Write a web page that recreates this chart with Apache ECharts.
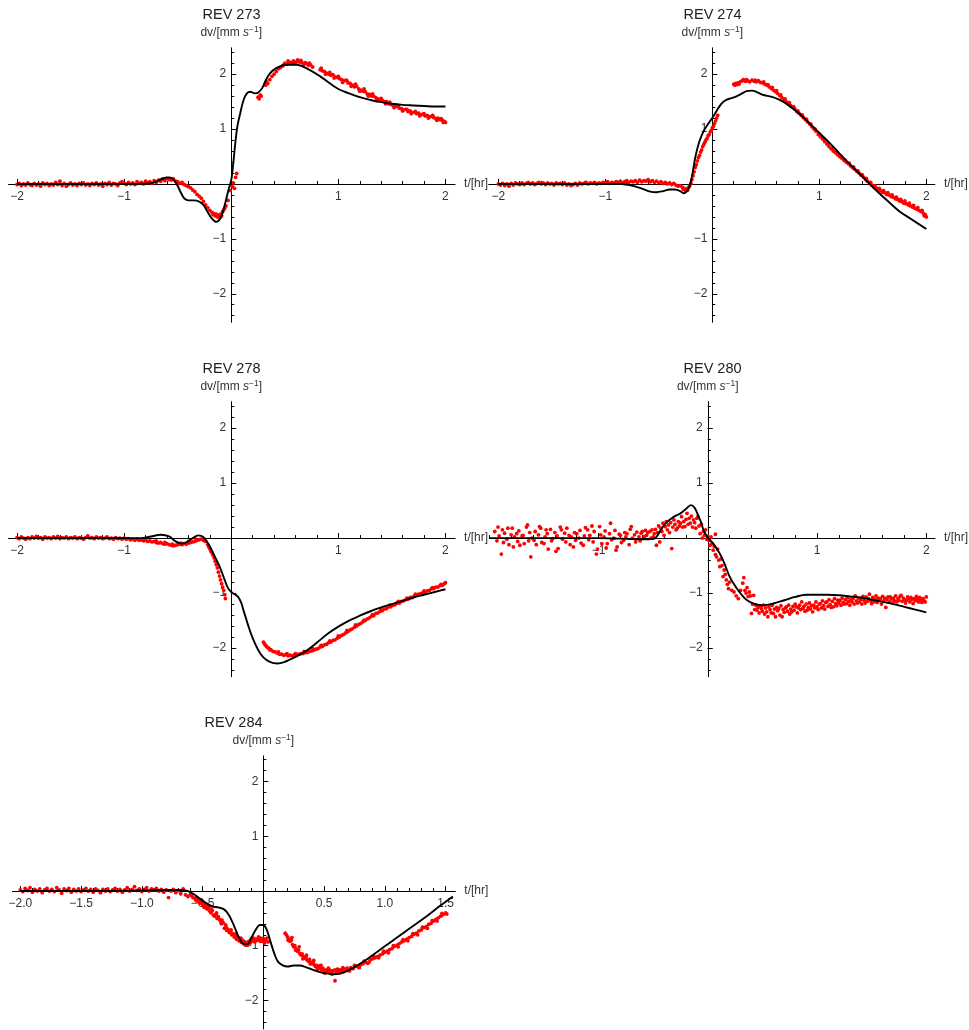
<!DOCTYPE html>
<html><head><meta charset="utf-8">
<script src="https://cdn.jsdelivr.net/npm/echarts@6/dist/echarts.min.js"></script>
<style>html,body{margin:0;padding:0;background:#fff}#c{width:969px;height:1030px}</style>
</head><body><div id="c"></div>
<script>
// ---------- titles & tick labels ----------
const titles = ['REV 273', 'REV 274', 'REV 278', 'REV 280', 'REV 284'];
const xLabelsStd = [-2, -1, 1, 2];
const xLabels280 = [-1, 1, 2];
const xLabels284 = [-2, -1.5, -1, -0.5, 0.5, 1, 1.5];
const yLabels = [-2, -1, 1, 2];
const xName = 't/[hr]';

// ---------- REV 273 ----------
const curve273 = [[-2,0],[-1.5,0],[-1,0],[-0.8,0.005],[-0.72,0.03],[-0.65,0.09],[-0.59,0.12],[-0.55,0.1],[-0.51,0.0],[-0.47,-0.16],[-0.44,-0.26],[-0.4,-0.3],[-0.35,-0.3],[-0.3,-0.32],[-0.26,-0.38],[-0.23,-0.48],[-0.18,-0.63],[-0.14,-0.69],[-0.1,-0.62],[-0.07,-0.45],[-0.05,-0.3],[-0.025,-0.1],[0.0,0.07],[0.022,0.44],[0.053,1.0],[0.084,1.29],[0.115,1.53],[0.146,1.65],[0.177,1.68],[0.22,1.65],[0.255,1.67],[0.29,1.75],[0.32,1.88],[0.36,2.01],[0.42,2.11],[0.52,2.17],[0.61,2.17],[0.7,2.11],[0.83,1.96],[1.0,1.73],[1.1,1.65],[1.2,1.58],[1.3,1.53],[1.4,1.49],[1.5,1.46],[1.6,1.44],[1.7,1.43],[1.8,1.42],[1.9,1.41],[2.0,1.41]];
const pts273 = [[-2.00,-0.01],[-1.98,0.01],[-1.96,-0.03],[-1.94,0.00],[-1.92,-0.02],[-1.90,0.02],[-1.88,-0.01],[-1.86,-0.03],[-1.84,0.01],[-1.82,-0.02],[-1.80,0.00],[-1.78,-0.04],[-1.76,0.02],[-1.74,-0.01],[-1.72,0.01],[-1.70,-0.03],[-1.68,0.00],[-1.66,-0.02],[-1.64,0.03],[-1.62,-0.01],[-1.60,0.05],[-1.58,-0.03],[-1.56,0.01],[-1.54,-0.04],[-1.52,-0.01],[-1.50,0.02],[-1.48,-0.02],[-1.46,0.00],[-1.44,-0.03],[-1.42,0.01],[-1.40,-0.01],[-1.38,0.02],[-1.36,-0.02],[-1.34,0.00],[-1.32,-0.03],[-1.30,0.01],[-1.28,-0.01],[-1.26,0.02],[-1.24,-0.02],[-1.22,0.00],[-1.20,-0.04],[-1.18,0.01],[-1.16,-0.01],[-1.14,0.03],[-1.12,-0.02],[-1.10,0.01],[-1.08,0.00],[-1.06,-0.03],[-1.04,0.02],[-1.02,0.04],[-1.00,0.01],[-0.98,-0.01],[-0.96,0.03],[-0.94,0.00],[-0.92,0.02],[-0.90,-0.01],[-0.88,0.04],[-0.86,0.01],[-0.84,0.03],[-0.82,0.00],[-0.80,0.05],[-0.78,0.02],[-0.76,0.04],[-0.74,0.01],[-0.72,0.06],[-0.70,0.03],[-0.68,0.07],[-0.66,0.05],[-0.64,0.09],[-0.62,0.06],[-0.60,0.10],[-0.58,0.08],[-0.56,0.07],[-0.54,0.09],[-0.52,0.05],[-0.50,0.04],[-0.48,0.01],[-0.46,0.03],[-0.44,-0.01],[-0.42,-0.03],[-0.40,-0.05],[-0.38,-0.07],[-0.36,-0.11],[-0.34,-0.14],[-0.32,-0.19],[-0.30,-0.22],[-0.28,-0.26],[-0.26,-0.32],[-0.24,-0.38],[-0.22,-0.43],[-0.20,-0.48],[-0.18,-0.52],[-0.17,-0.56],[-0.16,-0.54],[-0.15,-0.58],[-0.14,-0.55],[-0.13,-0.6],[-0.12,-0.57],[-0.11,-0.61],[-0.10,-0.55],[-0.09,-0.58],[-0.08,-0.5],[-0.07,-0.47],[-0.06,-0.44],[-0.05,-0.4],[-0.03,-0.3],[-0.01,-0.12],[0.01,-0.05],[0.02,0.02],[0.03,-0.08],[0.04,0.12],[0.05,0.19],[0.25,1.58],[0.26,1.55],[0.27,1.62],[0.28,1.6],[0.32,1.8],[0.33,1.86],[0.34,1.83],[0.36,1.9],[0.38,1.96],[0.40,2.0],[0.42,2.05],[0.44,2.1],[0.46,2.12],[0.48,2.15],[0.50,2.2],[0.52,2.18],[0.54,2.22],[0.56,2.21],[0.58,2.24],[0.60,2.2],[0.62,2.26],[0.64,2.22],[0.66,2.21],[0.68,2.18],[0.70,2.2],[0.72,2.16],[0.74,2.17],[0.76,2.13],[0.83,2.08],[0.85,2.06],[0.87,2.05],[0.89,2.02],[0.91,2.0],[0.93,1.98],[0.95,1.99],[0.97,1.95],[0.99,1.94],[1.01,1.92],[1.03,1.9],[1.05,1.88],[1.07,1.89],[1.09,1.84],[1.11,1.83],[1.13,1.8],[1.15,1.77],[1.17,1.78],[1.19,1.73],[1.21,1.71],[1.23,1.69],[1.25,1.68],[1.27,1.64],[1.29,1.63],[1.31,1.6],[1.33,1.6],[1.35,1.57],[1.37,1.55],[1.39,1.54],[1.41,1.52],[1.43,1.5],[1.45,1.5],[1.47,1.46],[1.49,1.45],[1.51,1.43],[1.53,1.41],[1.55,1.42],[1.57,1.38],[1.59,1.37],[1.61,1.35],[1.63,1.36],[1.65,1.32],[1.67,1.33],[1.69,1.3],[1.71,1.31],[1.73,1.28],[1.75,1.29],[1.77,1.26],[1.79,1.27],[1.81,1.24],[1.83,1.25],[1.85,1.22],[1.87,1.23],[1.89,1.21],[1.91,1.19],[1.93,1.2],[1.95,1.17],[1.97,1.16],[1.99,1.14],[2.0,1.12],
  [0.49,2.17],[0.53,2.24],[0.57,2.19],[0.61,2.23],[0.65,2.25],[0.69,2.21],[0.73,2.2],[0.84,2.11],[0.88,2.0],[0.92,2.03],[0.96,1.93],[1.0,1.96],[1.04,1.85],[1.08,1.88],[1.12,1.78],[1.16,1.82],[1.2,1.69],[1.24,1.73],[1.28,1.6],[1.32,1.64],[1.36,1.52],[1.4,1.56],[1.44,1.46],[1.48,1.49],[1.52,1.39],[1.56,1.42],[1.6,1.33],[1.64,1.36],[1.68,1.28],[1.72,1.32],[1.76,1.24],[1.8,1.28],[1.84,1.2],[1.88,1.25],[1.92,1.16],[1.96,1.19],[1.98,1.12]];

// ---------- REV 274 ----------
const curve274 = [[-2,0],[-1.5,0],[-1.0,0],[-0.85,0.0],[-0.75,-0.03],[-0.65,-0.09],[-0.58,-0.14],[-0.52,-0.15],[-0.46,-0.13],[-0.4,-0.1],[-0.35,-0.1],[-0.3,-0.13],[-0.27,-0.17],[-0.24,-0.14],[-0.22,-0.07],[-0.2,0.05],[-0.18,0.25],[-0.16,0.48],[-0.13,0.72],[-0.1,0.88],[-0.07,1.0],[-0.03,1.12],[0.0,1.2],[0.04,1.33],[0.08,1.45],[0.12,1.52],[0.17,1.56],[0.22,1.59],[0.27,1.64],[0.32,1.69],[0.37,1.70],[0.42,1.67],[0.48,1.62],[0.55,1.59],[0.62,1.54],[0.7,1.45],[0.8,1.3],[0.9,1.12],[1.0,0.93],[1.1,0.74],[1.2,0.53],[1.3,0.33],[1.4,0.14],[1.47,0.0],[1.55,-0.15],[1.65,-0.33],[1.75,-0.5],[1.85,-0.63],[2.0,-0.82]];
const pts274 = [[-2.00,0.0],[-1.98,-0.02],[-1.96,0.01],[-1.94,-0.03],[-1.92,0.0],[-1.90,-0.04],[-1.88,0.01],[-1.86,-0.02],[-1.84,0.02],[-1.82,0.0],[-1.80,-0.01],[-1.78,0.02],[-1.76,-0.01],[-1.74,0.01],[-1.72,0.03],[-1.70,0.0],[-1.68,0.02],[-1.66,-0.01],[-1.64,0.01],[-1.62,0.03],[-1.60,0.0],[-1.58,0.02],[-1.56,-0.01],[-1.54,0.02],[-1.52,0.0],[-1.50,0.01],[-1.48,-0.02],[-1.46,0.02],[-1.44,0.0],[-1.42,0.01],[-1.40,-0.01],[-1.38,0.02],[-1.36,-0.02],[-1.34,0.0],[-1.32,-0.03],[-1.30,-0.01],[-1.28,0.01],[-1.26,-0.02],[-1.24,0.02],[-1.22,0.0],[-1.20,0.01],[-1.18,0.03],[-1.16,0.0],[-1.14,0.02],[-1.12,0.01],[-1.10,0.03],[-1.08,0.0],[-1.06,0.02],[-1.04,0.01],[-1.02,0.03],[-1.00,0.02],[-0.98,0.04],[-0.96,0.01],[-0.94,0.03],[-0.92,0.02],[-0.90,0.04],[-0.88,0.03],[-0.86,0.05],[-0.84,0.02],[-0.82,0.04],[-0.80,0.06],[-0.78,0.03],[-0.76,0.05],[-0.74,0.04],[-0.72,0.06],[-0.70,0.03],[-0.68,0.07],[-0.66,0.04],[-0.64,0.06],[-0.62,0.05],[-0.60,0.08],[-0.58,0.04],[-0.56,0.06],[-0.54,0.03],[-0.52,0.05],[-0.50,0.02],[-0.48,0.04],[-0.46,0.01],[-0.44,0.03],[-0.42,0.0],[-0.40,0.02],[-0.38,-0.01],[-0.36,0.01],[-0.34,-0.02],[-0.32,-0.04],[-0.30,-0.03],[-0.28,-0.06],[-0.27,-0.1],[-0.26,-0.08],[-0.25,-0.12],[-0.24,-0.09],[-0.23,-0.11],[-0.22,-0.06],[-0.21,-0.03],[-0.20,0.01],[-0.19,0.08],[-0.18,0.15],[-0.17,0.22],[-0.16,0.3],[-0.15,0.35],[-0.14,0.42],[-0.13,0.48],[-0.12,0.52],[-0.11,0.58],[-0.10,0.62],[-0.09,0.68],[-0.08,0.72],[-0.07,0.76],[-0.06,0.8],[-0.05,0.83],[-0.04,0.88],[-0.03,0.9],[-0.02,0.95],[-0.01,0.97],[0.0,1.02],[0.01,1.05],[0.02,1.1],[0.03,1.15],[0.04,1.2],[0.05,1.25],[0.20,1.82],[0.21,1.8],[0.22,1.83],[0.23,1.81],[0.24,1.84],[0.26,1.86],[0.28,1.88],[0.29,1.9],[0.31,1.87],[0.33,1.88],[0.35,1.86],[0.37,1.89],[0.39,1.87],[0.41,1.86],[0.43,1.88],[0.45,1.85],[0.47,1.84],[0.49,1.82],[0.51,1.8],[0.53,1.77],[0.55,1.74],[0.57,1.71],[0.59,1.68],[0.61,1.65],[0.63,1.61],[0.65,1.57],[0.67,1.54],[0.69,1.5],[0.71,1.47],[0.73,1.43],[0.75,1.4],[0.77,1.37],[0.79,1.32],[0.81,1.29],[0.83,1.25],[0.85,1.21],[0.87,1.17],[0.89,1.13],[0.91,1.09],[0.93,1.04],[0.95,1.0],[0.97,0.96],[0.99,0.9],[1.01,0.86],[1.03,0.82],[1.05,0.77],[1.07,0.73],[1.09,0.68],[1.11,0.64],[1.13,0.6],[1.15,0.57],[1.17,0.53],[1.19,0.5],[1.21,0.47],[1.23,0.43],[1.25,0.4],[1.27,0.37],[1.29,0.33],[1.31,0.3],[1.33,0.27],[1.35,0.23],[1.37,0.2],[1.39,0.16],[1.41,0.13],[1.43,0.09],[1.45,0.05],[1.47,0.02],[1.49,-0.02],[1.51,-0.05],[1.53,-0.07],[1.55,-0.1],[1.57,-0.12],[1.59,-0.15],[1.61,-0.16],[1.63,-0.19],[1.65,-0.2],[1.67,-0.23],[1.69,-0.24],[1.71,-0.27],[1.73,-0.28],[1.75,-0.31],[1.77,-0.32],[1.79,-0.35],[1.81,-0.36],[1.83,-0.38],[1.85,-0.4],[1.87,-0.42],[1.89,-0.44],[1.91,-0.46],[1.93,-0.48],[1.95,-0.5],[1.97,-0.53],[1.99,-0.56],[2.0,-0.6],
  [0.25,1.82],[0.32,1.9],[0.4,1.89],[0.48,1.86],[0.52,1.81],[0.56,1.76],[0.6,1.7],[0.64,1.62],[0.68,1.55],[0.72,1.48],[0.76,1.41],[0.8,1.33],[0.84,1.26],[0.88,1.18],[0.92,1.09],[0.96,1.0],[1.0,0.91],[1.04,0.82],[1.08,0.73],[1.12,0.65],[1.16,0.58],[1.2,0.51],[1.24,0.44],[1.28,0.38],[1.32,0.31],[1.36,0.24],[1.4,0.17],[1.44,0.1],[1.48,0.03],[1.52,-0.03],[1.56,-0.08],[1.6,-0.12],[1.64,-0.16],[1.68,-0.2],[1.72,-0.24],[1.76,-0.28],[1.8,-0.31],[1.84,-0.35],[1.88,-0.39],[1.92,-0.43],[1.96,-0.48],[1.98,-0.58]];

// ---------- REV 278 ----------
const curve278 = [[-2,0],[-1.5,0],[-1.0,0],[-0.85,0.0],[-0.75,0.03],[-0.66,0.06],[-0.58,0.03],[-0.52,-0.06],[-0.46,-0.1],[-0.41,-0.07],[-0.36,0.0],[-0.31,0.05],[-0.28,0.04],[-0.25,0.0],[-0.2,-0.15],[-0.16,-0.31],[-0.12,-0.47],[-0.09,-0.61],[-0.06,-0.77],[-0.03,-0.91],[0.0,-0.98],[0.03,-1.02],[0.06,-1.06],[0.09,-1.16],[0.12,-1.35],[0.16,-1.6],[0.2,-1.82],[0.25,-2.03],[0.3,-2.17],[0.36,-2.25],[0.43,-2.28],[0.5,-2.25],[0.6,-2.16],[0.7,-2.05],[0.8,-1.9],[0.9,-1.74],[1.0,-1.61],[1.1,-1.5],[1.2,-1.41],[1.3,-1.33],[1.4,-1.26],[1.5,-1.2],[1.6,-1.14],[1.7,-1.08],[1.8,-1.03],[1.9,-0.98],[2.0,-0.93]];
const pts278 = [[-2.00,0.01],[-1.98,-0.01],[-1.96,0.02],[-1.94,0.0],[-1.92,-0.02],[-1.90,0.01],[-1.88,-0.01],[-1.86,0.02],[-1.84,0.0],[-1.82,0.03],[-1.80,0.0],[-1.78,0.01],[-1.76,-0.02],[-1.74,0.02],[-1.72,0.0],[-1.70,0.01],[-1.68,-0.01],[-1.66,0.02],[-1.64,0.0],[-1.62,0.03],[-1.60,-0.01],[-1.58,0.01],[-1.56,0.0],[-1.54,0.02],[-1.52,-0.01],[-1.50,0.01],[-1.48,0.0],[-1.46,0.02],[-1.44,-0.01],[-1.42,0.01],[-1.40,0.0],[-1.38,-0.02],[-1.36,0.01],[-1.34,0.04],[-1.32,0.0],[-1.30,0.01],[-1.28,-0.01],[-1.26,0.02],[-1.24,0.0],[-1.22,0.01],[-1.20,-0.01],[-1.18,0.0],[-1.16,0.02],[-1.14,-0.01],[-1.12,0.0],[-1.10,-0.02],[-1.08,0.01],[-1.06,-0.01],[-1.04,0.0],[-1.02,-0.02],[-1.00,0.0],[-0.98,-0.02],[-0.96,-0.01],[-0.94,-0.03],[-0.92,-0.02],[-0.90,-0.04],[-0.88,-0.02],[-0.86,-0.04],[-0.84,-0.03],[-0.82,-0.05],[-0.80,-0.04],[-0.78,-0.06],[-0.76,-0.05],[-0.74,-0.07],[-0.72,-0.06],[-0.70,-0.08],[-0.68,-0.09],[-0.66,-0.08],[-0.64,-0.1],[-0.62,-0.11],[-0.60,-0.1],[-0.58,-0.12],[-0.56,-0.13],[-0.54,-0.14],[-0.52,-0.13],[-0.50,-0.12],[-0.48,-0.11],[-0.46,-0.12],[-0.44,-0.1],[-0.42,-0.11],[-0.40,-0.09],[-0.38,-0.08],[-0.36,-0.07],[-0.34,-0.06],[-0.32,-0.04],[-0.30,-0.03],[-0.28,-0.02],[-0.26,-0.04],[-0.24,-0.06],[-0.22,-0.12],[-0.21,-0.16],[-0.20,-0.2],[-0.19,-0.24],[-0.18,-0.27],[-0.17,-0.31],[-0.16,-0.36],[-0.15,-0.42],[-0.14,-0.48],[-0.13,-0.54],[-0.12,-0.62],[-0.11,-0.69],[-0.10,-0.76],[-0.09,-0.83],[-0.08,-0.89],[-0.07,-0.95],[-0.06,-1.03],[-0.055,-1.1],[0.30,-1.89],[0.31,-1.92],[0.32,-1.95],[0.33,-1.97],[0.34,-1.99],[0.35,-2.0],[0.37,-2.03],[0.39,-2.06],[0.41,-2.07],[0.43,-2.09],[0.45,-2.11],[0.47,-2.11],[0.49,-2.13],[0.51,-2.12],[0.53,-2.14],[0.55,-2.13],[0.57,-2.14],[0.59,-2.12],[0.61,-2.13],[0.63,-2.11],[0.65,-2.1],[0.67,-2.1],[0.69,-2.08],[0.71,-2.08],[0.73,-2.06],[0.75,-2.05],[0.77,-2.04],[0.79,-2.02],[0.81,-2.01],[0.83,-1.98],[0.85,-1.97],[0.87,-1.94],[0.89,-1.93],[0.91,-1.9],[0.93,-1.89],[0.95,-1.86],[0.97,-1.85],[0.99,-1.82],[1.01,-1.8],[1.03,-1.77],[1.05,-1.75],[1.07,-1.72],[1.09,-1.7],[1.11,-1.67],[1.13,-1.65],[1.15,-1.62],[1.17,-1.6],[1.19,-1.57],[1.21,-1.55],[1.23,-1.52],[1.25,-1.5],[1.27,-1.47],[1.29,-1.45],[1.31,-1.42],[1.33,-1.41],[1.35,-1.37],[1.37,-1.36],[1.39,-1.33],[1.41,-1.32],[1.43,-1.29],[1.45,-1.28],[1.47,-1.25],[1.49,-1.25],[1.51,-1.22],[1.53,-1.21],[1.55,-1.18],[1.57,-1.18],[1.59,-1.15],[1.61,-1.14],[1.63,-1.12],[1.65,-1.11],[1.67,-1.08],[1.69,-1.08],[1.71,-1.05],[1.73,-1.04],[1.75,-1.02],[1.77,-1.01],[1.79,-0.99],[1.81,-0.98],[1.83,-0.96],[1.85,-0.95],[1.87,-0.92],[1.89,-0.92],[1.91,-0.89],[1.93,-0.89],[1.95,-0.86],[1.97,-0.86],[1.99,-0.83],[2.0,-0.81],
  [-0.7,-0.05],[-0.62,-0.08],[-0.55,-0.11],[-0.47,-0.09],[-0.4,-0.06],[-0.33,-0.02],[0.36,-2.03],[0.44,-2.07],[0.52,-2.1],[0.6,-2.1],[0.68,-2.06],[0.76,-2.01],[0.84,-1.95],[0.92,-1.87],[1.0,-1.78],[1.08,-1.68],[1.16,-1.58],[1.24,-1.49],[1.32,-1.39],[1.4,-1.3],[1.48,-1.22],[1.56,-1.15],[1.64,-1.09],[1.72,-1.02],[1.8,-0.96],[1.88,-0.9],[1.96,-0.84]];

// ---------- REV 280 ----------
const curve280 = [[-2.0,0.0],[-1.5,0.0],[-1.0,0.0],[-0.8,-0.01],[-0.65,-0.02],[-0.55,-0.02],[-0.49,-0.01],[-0.46,0.05],[-0.42,0.18],[-0.38,0.28],[-0.33,0.36],[-0.28,0.42],[-0.25,0.45],[-0.2,0.53],[-0.155,0.6],[-0.12,0.55],[-0.09,0.42],[-0.06,0.28],[-0.04,0.15],[0.0,0.01],[0.05,-0.1],[0.1,-0.25],[0.13,-0.36],[0.16,-0.5],[0.2,-0.7],[0.26,-0.9],[0.31,-1.03],[0.36,-1.13],[0.42,-1.19],[0.5,-1.22],[0.6,-1.19],[0.7,-1.13],[0.8,-1.07],[0.9,-1.03],[1.0,-1.03],[1.1,-1.03],[1.2,-1.04],[1.3,-1.06],[1.4,-1.08],[1.5,-1.12],[1.6,-1.16],[1.7,-1.2],[1.8,-1.25],[1.9,-1.3],[2.0,-1.35]];
const pts280 = [[-1.95,0.12],[-1.93,-0.05],[-1.92,0.2],[-1.91,0.04],[-1.89,-0.29],[-1.88,0.15],[-1.87,-0.08],[-1.86,0.09],[-1.84,-0.02],[-1.83,0.18],[-1.82,-0.12],[-1.80,0.06],[-1.79,0.18],[-1.78,-0.16],[-1.77,0.02],[-1.75,0.08],[-1.74,-0.06],[-1.73,0.13],[-1.72,-0.13],[-1.70,0.04],[-1.69,0.05],[-1.68,-0.1],[-1.66,0.2],[-1.65,0.24],[-1.64,-0.05],[-1.63,0.1],[-1.62,-0.34],[-1.61,0.0],[-1.59,-0.04],[-1.58,0.12],[-1.57,-0.12],[-1.55,0.06],[-1.54,0.21],[-1.53,0.18],[-1.52,-0.08],[-1.50,-0.1],[-1.49,0.02],[-1.48,0.15],[-1.47,0.08],[-1.46,-0.2],[-1.44,0.16],[-1.43,-0.05],[-1.42,-0.01],[-1.40,0.1],[-1.39,-0.24],[-1.38,0.04],[-1.37,-0.19],[-1.35,0.2],[-1.34,0.15],[-1.33,-0.02],[-1.31,0.09],[-1.30,-0.07],[-1.29,0.18],[-1.27,0.05],[-1.26,-0.12],[-1.25,0.02],[-1.23,-0.16],[-1.22,0.1],[-1.21,-0.04],[-1.20,0.08],[-1.18,0.0],[-1.17,0.14],[-1.16,-0.09],[-1.14,-0.13],[-1.13,0.04],[-1.12,0.19],[-1.10,0.15],[-1.09,-0.03],[-1.08,0.05],[-1.06,0.22],[-1.05,-0.07],[-1.04,0.12],[-1.02,-0.29],[-1.01,-0.2],[-0.99,0.21],[-0.98,0.06],[-0.97,-0.1],[-0.95,0.02],[-0.94,0.13],[-0.93,-0.18],[-0.92,-0.1],[-0.90,0.08],[-0.89,0.27],[-0.88,-0.03],[-0.86,0.0],[-0.85,0.14],[-0.84,-0.22],[-0.83,-0.16],[-0.81,0.07],[-0.80,0.05],[-0.79,-0.08],[-0.77,-0.04],[-0.76,0.1],[-0.75,0.02],[-0.74,0.08],[-0.72,-0.12],[-0.71,0.16],[-0.70,0.21],[-0.69,0.0],[-0.67,0.06],[-0.66,-0.07],[-0.65,0.11],[-0.63,0.02],[-0.62,-0.05],[-0.61,0.09],[-0.60,0.12],[-0.58,0.03],[-0.57,0.14],[-0.56,0.05],[-0.55,0.1],[-0.53,0.12],[-0.52,0.0],[-0.51,0.15],[-0.50,0.02],[-0.49,0.08],[-0.48,0.16],[-0.47,-0.13],[-0.46,0.1],[-0.45,0.22],[-0.44,-0.07],[-0.43,0.18],[-0.42,0.12],[-0.41,0.27],[-0.40,0.05],[-0.39,0.21],[-0.38,0.3],[-0.37,0.15],[-0.36,0.24],[-0.35,0.1],[-0.34,0.28],[-0.33,-0.19],[-0.32,0.2],[-0.31,0.33],[-0.30,0.25],[-0.29,0.15],[-0.28,0.18],[-0.27,0.3],[-0.26,0.22],[-0.25,0.27],[-0.24,0.39],[-0.23,0.2],[-0.22,0.3],[-0.21,0.21],[-0.20,0.34],[-0.19,0.45],[-0.18,0.25],[-0.17,0.36],[-0.16,0.27],[-0.15,0.4],[-0.14,0.2],[-0.13,0.33],[-0.12,0.28],[-0.11,0.18],[-0.10,0.36],[-0.09,0.39],[-0.08,0.22],[-0.07,0.08],[-0.06,0.25],[-0.05,0.0],[-0.04,0.12],[-0.03,0.05],[-0.02,0.15],[-0.01,-0.02],[0.0,0.03],[0.01,-0.04],[0.02,-0.13],[0.03,0.02],[0.04,-0.1],[0.05,-0.22],[0.06,-0.15],[0.07,0.07],[0.07,-0.3],[0.08,-0.34],[0.09,-0.2],[0.10,-0.4],[0.11,-0.52],[0.12,-0.38],[0.13,-0.5],[0.14,-0.7],[0.15,-0.58],[0.16,-0.66],[0.17,-0.76],[0.18,-0.84],[0.19,-0.92],[0.20,-0.8],[0.22,-0.95],[0.24,-0.98],[0.26,-1.05],[0.28,-1.1],[0.30,-0.95],[0.32,-0.82],[0.33,-0.72],[0.34,-0.95],[0.35,-1.0],[0.36,-0.9],[0.37,-1.06],[0.38,-0.98],[0.39,-1.05],[0.40,-1.37],[0.41,-1.2],[0.42,-1.04],[0.43,-1.3],[0.44,-1.22],[0.45,-1.31],[0.46,-1.26],[0.47,-1.36],[0.48,-1.24],[0.49,-1.28],[0.50,-1.33],[0.51,-1.22],[0.52,-1.38],[0.53,-1.27],[0.54,-1.34],[0.55,-1.43],[0.56,-1.25],[0.57,-1.3],[0.58,-1.36],[0.59,-1.22],[0.60,-1.37],[0.61,-1.29],[0.62,-1.43],[0.63,-1.26],[0.64,-1.32],[0.65,-1.28],[0.66,-1.4],[0.67,-1.23],[0.68,-1.43],[0.69,-1.3],[0.70,-1.35],[0.71,-1.27],[0.72,-1.25],[0.73,-1.33],[0.74,-1.22],[0.75,-1.38],[0.76,-1.29],[0.77,-1.34],[0.78,-1.24],[0.79,-1.31],[0.80,-1.2],[0.81,-1.25],[0.82,-1.36],[0.83,-1.27],[0.84,-1.22],[0.85,-1.3],[0.86,-1.16],[0.87,-1.28],[0.88,-1.24],[0.89,-1.33],[0.90,-1.2],[0.91,-1.31],[0.92,-1.26],[0.93,-1.18],[0.94,-1.29],[0.95,-1.23],[0.96,-1.34],[0.97,-1.22],[0.98,-1.27],[0.99,-1.16],[1.00,-1.25],[1.01,-1.3],[1.02,-1.2],[1.03,-1.19],[1.04,-1.27],[1.05,-1.14],[1.06,-1.23],[1.07,-1.29],[1.08,-1.17],[1.09,-1.16],[1.10,-1.24],[1.11,-1.12],[1.12,-1.21],[1.13,-1.26],[1.14,-1.15],[1.15,-1.25],[1.16,-1.1],[1.17,-1.19],[1.18,-1.23],[1.19,-1.13],[1.20,-1.18],[1.21,-1.13],[1.22,-1.22],[1.23,-1.09],[1.24,-1.17],[1.25,-1.2],[1.26,-1.12],[1.27,-1.19],[1.28,-1.08],[1.29,-1.15],[1.30,-1.22],[1.31,-1.11],[1.32,-1.16],[1.33,-1.1],[1.34,-1.2],[1.35,-1.05],[1.36,-1.14],[1.37,-1.18],[1.38,-1.09],[1.39,-1.16],[1.40,-1.12],[1.41,-1.2],[1.42,-1.06],[1.43,-1.13],[1.44,-1.18],[1.45,-1.07],[1.46,-1.15],[1.47,-1.1],[1.48,-1.02],[1.49,-1.14],[1.50,-1.19],[1.51,-1.08],[1.52,-1.16],[1.53,-1.11],[1.54,-1.05],[1.55,-1.17],[1.56,-1.09],[1.57,-1.13],[1.58,-1.1],[1.59,-1.2],[1.60,-1.06],[1.61,-1.14],[1.62,-1.09],[1.63,-1.26],[1.64,-1.12],[1.65,-1.07],[1.66,-1.16],[1.67,-1.07],[1.68,-1.11],[1.69,-1.18],[1.70,-1.09],[1.71,-1.14],[1.72,-1.05],[1.73,-1.16],[1.74,-1.1],[1.75,-1.13],[1.76,-1.06],[1.77,-1.04],[1.78,-1.15],[1.79,-1.09],[1.80,-1.12],[1.81,-1.18],[1.82,-1.13],[1.83,-1.07],[1.84,-1.1],[1.85,-1.16],[1.86,-1.08],[1.87,-1.12],[1.88,-1.19],[1.89,-1.1],[1.90,-1.14],[1.91,-1.06],[1.92,-1.11],[1.93,-1.16],[1.94,-1.08],[1.95,-1.12],[1.96,-1.17],[1.97,-1.1],[1.98,-1.14],[1.99,-1.16],[2.0,-1.07]];

// ---------- REV 284 ----------
const curve284 = [[-2,0],[-1.5,0],[-1.0,0.01],[-0.8,0.02],[-0.68,0.02],[-0.62,0.0],[-0.57,-0.06],[-0.52,-0.14],[-0.47,-0.22],[-0.42,-0.28],[-0.37,-0.3],[-0.32,-0.34],[-0.28,-0.45],[-0.24,-0.64],[-0.2,-0.85],[-0.16,-0.97],[-0.13,-0.97],[-0.1,-0.86],[-0.06,-0.7],[-0.03,-0.62],[0.0,-0.62],[0.03,-0.72],[0.06,-0.93],[0.09,-1.14],[0.12,-1.29],[0.16,-1.36],[0.2,-1.38],[0.25,-1.36],[0.3,-1.36],[0.35,-1.39],[0.42,-1.45],[0.5,-1.5],[0.58,-1.52],[0.66,-1.49],[0.75,-1.39],[0.85,-1.25],[0.95,-1.09],[1.05,-0.93],[1.15,-0.77],[1.25,-0.61],[1.35,-0.45],[1.45,-0.28],[1.56,-0.1]];
const pts284 = [[-2.00,0.02],[-1.98,-0.01],[-1.96,0.05],[-1.94,0.01],[-1.92,0.06],[-1.90,-0.02],[-1.88,0.03],[-1.86,0.0],[-1.84,0.04],[-1.82,-0.03],[-1.80,0.02],[-1.78,0.05],[-1.76,0.0],[-1.74,0.03],[-1.72,-0.01],[-1.70,0.06],[-1.68,0.02],[-1.66,-0.04],[-1.64,0.04],[-1.62,0.01],[-1.60,0.05],[-1.58,-0.02],[-1.56,0.03],[-1.54,0.0],[-1.52,0.04],[-1.50,-0.01],[-1.48,0.02],[-1.46,0.05],[-1.44,0.0],[-1.42,0.03],[-1.40,-0.02],[-1.38,0.04],[-1.36,0.01],[-1.34,-0.03],[-1.32,0.03],[-1.30,0.0],[-1.28,0.04],[-1.26,-0.01],[-1.24,0.02],[-1.22,0.05],[-1.20,0.0],[-1.18,0.03],[-1.16,-0.02],[-1.14,0.02],[-1.12,0.06],[-1.10,0.0],[-1.08,0.03],[-1.06,0.08],[-1.04,0.01],[-1.02,0.04],[-1.00,-0.01],[-0.98,0.03],[-0.96,0.06],[-0.94,0.0],[-0.92,0.04],[-0.90,0.02],[-0.88,0.05],[-0.86,0.0],[-0.84,0.03],[-0.82,-0.02],[-0.80,0.02],[-0.78,-0.12],[-0.76,0.0],[-0.74,0.03],[-0.72,-0.03],[-0.70,0.01],[-0.68,-0.05],[-0.66,0.04],[-0.64,-0.07],[-0.62,-0.1],[-0.60,-0.06],[-0.58,-0.12],[-0.56,-0.15],[-0.55,-0.18],[-0.54,-0.14],[-0.53,-0.2],[-0.52,-0.22],[-0.51,-0.19],[-0.50,-0.25],[-0.49,-0.28],[-0.48,-0.24],[-0.47,-0.31],[-0.46,-0.33],[-0.45,-0.3],[-0.44,-0.37],[-0.43,-0.4],[-0.42,-0.36],[-0.41,-0.44],[-0.40,-0.46],[-0.39,-0.43],[-0.38,-0.5],[-0.37,-0.47],[-0.36,-0.52],[-0.35,-0.56],[-0.34,-0.53],[-0.33,-0.58],[-0.32,-0.68],[-0.31,-0.62],[-0.30,-0.72],[-0.29,-0.7],[-0.28,-0.76],[-0.27,-0.74],[-0.26,-0.8],[-0.25,-0.78],[-0.24,-0.84],[-0.23,-0.82],[-0.22,-0.88],[-0.21,-0.85],[-0.20,-0.91],[-0.19,-0.88],[-0.18,-0.94],[-0.17,-0.9],[-0.16,-0.97],[-0.15,-0.93],[-0.14,-0.96],[-0.13,-0.99],[-0.12,-0.92],[-0.11,-0.95],[-0.10,-0.88],[-0.09,-0.91],[-0.08,-0.86],[-0.07,-0.93],[-0.06,-0.88],[-0.05,-0.9],[-0.04,-0.84],[-0.03,-0.89],[-0.02,-0.86],[-0.01,-0.92],[0.0,-0.87],[0.02,-0.9],[0.04,-0.93],[0.18,-0.77],[0.19,-0.8],[0.20,-0.84],[0.21,-0.88],[0.22,-0.92],[0.23,-0.9],[0.24,-0.98],[0.25,-1.02],[0.26,-1.0],[0.27,-1.06],[0.28,-1.1],[0.29,-1.08],[0.30,-1.14],[0.31,-1.17],[0.32,-1.15],[0.33,-1.2],[0.34,-1.23],[0.35,-1.21],[0.36,-1.26],[0.37,-1.28],[0.38,-1.25],[0.39,-1.3],[0.40,-1.33],[0.41,-1.31],[0.42,-1.35],[0.43,-1.38],[0.44,-1.36],[0.45,-1.4],[0.46,-1.37],[0.47,-1.42],[0.48,-1.44],[0.49,-1.41],[0.50,-1.45],[0.51,-1.48],[0.52,-1.44],[0.53,-1.47],[0.54,-1.43],[0.55,-1.49],[0.56,-1.46],[0.57,-1.5],[0.58,-1.45],[0.59,-1.64],[0.60,-1.47],[0.61,-1.43],[0.62,-1.48],[0.63,-1.44],[0.64,-1.46],[0.65,-1.42],[0.66,-1.47],[0.67,-1.43],[0.68,-1.45],[0.69,-1.41],[0.70,-1.44],[0.72,-1.4],[0.74,-1.42],[0.76,-1.37],[0.78,-1.39],[0.80,-1.35],[0.82,-1.33],[0.84,-1.3],[0.86,-1.32],[0.88,-1.26],[0.90,-1.24],[0.92,-1.22],[0.94,-1.2],[0.96,-1.17],[0.98,-1.15],[1.00,-1.12],[1.02,-1.1],[1.04,-1.07],[1.06,-1.05],[1.08,-1.01],[1.10,-0.99],[1.12,-0.96],[1.14,-0.93],[1.16,-0.91],[1.18,-0.88],[1.20,-0.85],[1.22,-0.83],[1.24,-0.79],[1.26,-0.77],[1.28,-0.73],[1.30,-0.71],[1.32,-0.67],[1.34,-0.65],[1.36,-0.61],[1.38,-0.59],[1.40,-0.55],[1.42,-0.52],[1.44,-0.49],[1.46,-0.46],[1.48,-0.43],[1.50,-0.4],[1.51,-0.42],
  [-0.59,-0.08],[-0.555,-0.12],[-0.525,-0.17],[-0.485,-0.3],[-0.455,-0.27],[-0.425,-0.33],[-0.385,-0.4],[-0.345,-0.6],[-0.305,-0.66],[-0.265,-0.71],[-0.225,-0.78],[-0.185,-0.86],[-0.145,-0.99],[-0.105,-0.94],[-0.065,-0.9],[-0.025,-0.92],[0.01,-0.95],[0.03,-0.86],[0.205,-0.9],[0.235,-0.85],[0.265,-1.08],[0.295,-1.02],[0.325,-1.24],[0.355,-1.17],[0.385,-1.33],[0.415,-1.27],[0.445,-1.43],[0.475,-1.36],[0.505,-1.5],[0.535,-1.41],[0.565,-1.52],[0.595,-1.44],[0.625,-1.5],[0.655,-1.4],[0.71,-1.46],[0.75,-1.36],[0.79,-1.4],[0.83,-1.28],[0.87,-1.3],[0.91,-1.19],[0.95,-1.22],[0.99,-1.1],[1.03,-1.13],[1.07,-1.0],[1.11,-1.02],[1.15,-0.89],[1.19,-0.91],[1.23,-0.78],[1.27,-0.8],[1.31,-0.66],[1.35,-0.68],[1.39,-0.54],[1.43,-0.55],[1.47,-0.41]];

// ---------- layout ----------
const FONT = '"Liberation Sans", Arial, Helvetica, sans-serif';
function steps(a, b, s) { const r = []; const n = Math.round((b - a) / s); for (let i = 0; i <= n; i++) r.push(+(a + i * s).toFixed(4)); return r; }
const yMinor = steps(-2.4, 2.4, 0.2);

const panels = [
  {curve: curve273, pts: pts273, box: [8.5, 47.8, 446.6, 274.5], x: [-2.08, 2.09], y: [-2.52, 2.48], xLab: xLabelsStd, xMinor: steps(-2, 2, 0.2), dec: 0, t: [231.5, 15]},
  {curve: curve274, pts: pts274, box: [488.7, 47.8, 446.2, 274.5], x: [-2.09, 2.08], y: [-2.52, 2.48], xLab: xLabelsStd, xMinor: steps(-2, 2, 0.2), dec: 0, t: [712.5, 15]},
  {curve: curve278, pts: pts278, box: [8.5, 401.7, 446.6, 275], x: [-2.08, 2.09], y: [-2.52, 2.48], xLab: xLabelsStd, xMinor: steps(-2, 2, 0.2), dec: 0, t: [231.5, 369]},
  {curve: curve280, pts: pts280, box: [489.3, 401.7, 445.7, 275], x: [-2.0, 2.08], y: [-2.52, 2.48], xLab: xLabels280, xMinor: steps(-2, 2, 0.2), dec: 0, t: [712.5, 369]},
  {curve: curve284, pts: pts284, box: [12.4, 755.9, 442.9, 273], x: [-2.065, 1.58], y: [-2.52, 2.47], xLab: xLabels284, xMinor: steps(-2, 1.5, 0.1), dec: 1, t: [233.5, 722.5]}
];

function fmt(dec) {
  return function (v) { const s = Math.abs(v).toFixed(dec); return (v < 0 ? '\u2212' : '') + s; };
}

const grid = [], xAxis = [], yAxis = [], series = [], graphic = [];
panels.forEach(function (p, i) {
  const b = p.box;
  grid.push({left: b[0], top: b[1], width: b[2], height: b[3], containLabel: false, outerBoundsMode: 'none'});
  // axes cross at the origin: shift the bottom / left axes inward to the zero position
  const xOff = -b[3] * (0 - p.y[0]) / (p.y[1] - p.y[0]);
  const yOff = -b[2] * (0 - p.x[0]) / (p.x[1] - p.x[0]);
  const lab = {fontSize: 12, color: '#333', fontFamily: FONT};
  xAxis.push({
    type: 'value', gridIndex: i, position: 'bottom', offset: xOff, min: p.x[0], max: p.x[1],
    axisLine: {show: true, onZero: false, lineStyle: {color: '#000', width: 1}},
    axisTick: {show: true, inside: true, length: 5, customValues: p.xLab, lineStyle: {color: '#000', width: 1}},
    axisLabel: Object.assign({show: true, margin: 7, customValues: p.xLab, formatter: fmt(p.dec)}, lab),
    splitLine: {show: false}, minorTick: {show: false},
    name: xName, nameLocation: 'end', nameGap: 9, nameTextStyle: {fontSize: 12, color: '#333', fontFamily: FONT}
  });
  xAxis.push({
    type: 'value', gridIndex: i, position: 'bottom', offset: xOff, min: p.x[0], max: p.x[1],
    axisLine: {show: false, onZero: false},
    axisTick: {show: true, inside: true, length: 3, customValues: p.xMinor, lineStyle: {color: '#000', width: 1}},
    axisLabel: {show: false}, splitLine: {show: false}
  });
  yAxis.push({
    type: 'value', gridIndex: i, position: 'left', offset: yOff, min: p.y[0], max: p.y[1],
    axisLine: {show: true, onZero: false, lineStyle: {color: '#000', width: 1}},
    axisTick: {show: true, inside: true, length: 5, customValues: yLabels, lineStyle: {color: '#000', width: 1}},
    axisLabel: Object.assign({show: true, margin: 5, customValues: yLabels, formatter: fmt(0)}, lab),
    splitLine: {show: false}, minorTick: {show: false},
    name: '{n|dv/[mm }{i|s}{p|\u22121}{n|]}', nameLocation: 'end', nameGap: 8,
    nameTextStyle: {
      color: '#333', fontFamily: FONT, fontSize: 12,
      rich: {
        n: {fontSize: 12, fontFamily: FONT, color: '#333', lineHeight: 15},
        i: {fontSize: 12, fontFamily: FONT, color: '#333', fontStyle: 'italic', lineHeight: 15},
        p: {fontSize: 8.5, fontFamily: FONT, color: '#333', lineHeight: 9, verticalAlign: 'top'}
      }
    }
  });
  yAxis.push({
    type: 'value', gridIndex: i, position: 'left', offset: yOff, min: p.y[0], max: p.y[1],
    axisLine: {show: false, onZero: false},
    axisTick: {show: true, inside: true, length: 3, customValues: yMinor, lineStyle: {color: '#000', width: 1}},
    axisLabel: {show: false}, splitLine: {show: false}
  });
  series.push({
    type: 'scatter', xAxisIndex: 2 * i, yAxisIndex: 2 * i, data: p.pts,
    symbol: 'circle', symbolSize: 3.8, itemStyle: {color: '#ff0000', opacity: 1}, z: 2, silent: true
  });
  series.push({
    type: 'line', xAxisIndex: 2 * i, yAxisIndex: 2 * i, data: p.curve,
    showSymbol: false, smooth: 0.35, lineStyle: {color: '#000', width: 1.9}, z: 3, silent: true
  });
  graphic.push({
    type: 'text', x: p.t[0], y: p.t[1], silent: true,
    style: {text: titles[i], font: '14.5px ' + FONT, fill: '#222', align: 'center', verticalAlign: 'middle', textAlign: 'center', textVerticalAlign: 'middle'}
  });
});

const chart = echarts.init(document.getElementById('c'), null, {renderer: 'canvas'});
chart.setOption({animation: false, backgroundColor: '#fff', grid: grid, xAxis: xAxis, yAxis: yAxis, series: series, graphic: graphic});
</script></body></html>
